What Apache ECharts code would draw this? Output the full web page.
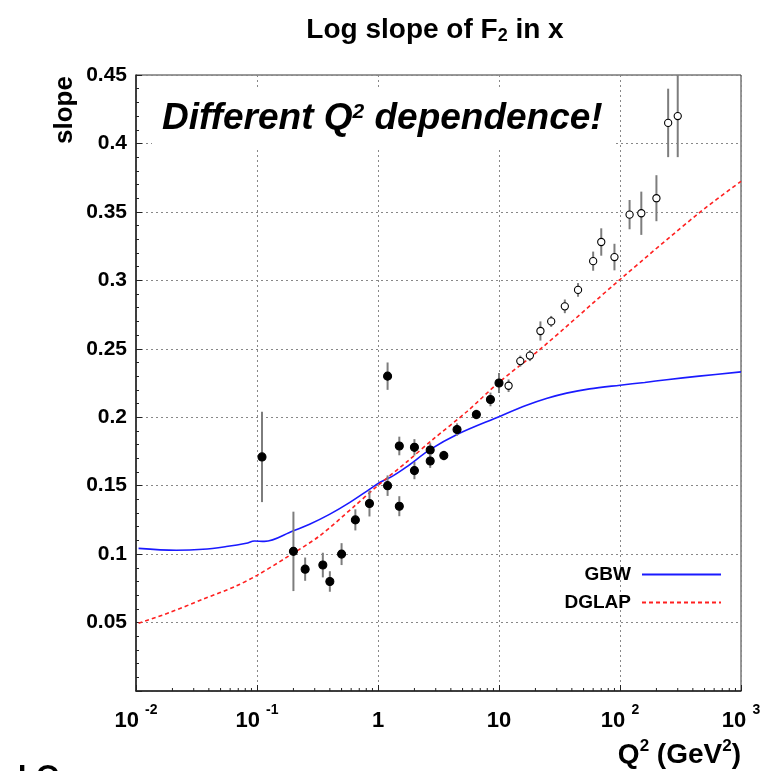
<!DOCTYPE html>
<html>
<head>
<meta charset="utf-8">
<title>Log slope of F2 in x</title>
<script src="https://cdn.jsdelivr.net/npm/echarts@6/dist/echarts.min.js"></script>
<style>
    html, body { margin: 0; padding: 0; background: #fff; }
    #chart { width: 779px; height: 771px; }
</style>
</head>
<body>
<div id="chart"></div>
<script>
    // H1 points, filled markers
    const lowQ2 = [0.11, 0.2, 0.25, 0.35, 0.4, 0.5, 0.65, 0.85, 1.2, 1.2, 1.5, 1.5, 2.0, 2.0, 2.7, 2.7, 3.5, 4.5, 6.5, 8.5, 10]
    const lowSlope = [0.171, 0.102, 0.089, 0.092, 0.080, 0.100, 0.125, 0.137, 0.150, 0.230, 0.179, 0.135, 0.178, 0.161, 0.176, 0.168, 0.172, 0.191, 0.202, 0.213, 0.225]
    const lowErr = [0.033, 0.029, 0.0085, 0.009, 0.0075, 0.008, 0.0077, 0.0095, 0.0075, 0.01, 0.0068, 0.0073, 0.006, 0.0063, 0.005, 0.005, 0.0035, 0.0045, 0.0035, 0.005, 0.0073]

    // open markers (higher Q2)
    const highQ2 = [12, 15, 18, 22, 27, 35, 45, 60, 70, 90, 120, 150, 200, 250, 300]
    const highSlope = [0.223, 0.241, 0.245, 0.263, 0.270, 0.281, 0.293, 0.314, 0.328, 0.317, 0.348, 0.349, 0.360, 0.415, 0.420]
    const highErr = [0.0046, 0.004, 0.004, 0.007, 0.004, 0.005, 0.005, 0.007, 0.010, 0.0097, 0.0107, 0.0158, 0.0168, 0.025, 0.030]

    // model curves
    const gbwQ2 = [0.0105, 0.0215, 0.0357, 0.0557, 0.0815, 0.0953, 0.115, 0.198, 0.272, 0.397, 0.581, 0.849, 1.04, 1.32, 1.71, 2.69, 4.5, 10, 16.9, 25, 36.2, 56, 100, 160, 243, 450, 1000]
    const gbwSlope = [0.1042, 0.1028, 0.1035, 0.1055, 0.1079, 0.1096, 0.1093, 0.1169, 0.1218, 0.129, 0.1376, 0.1473, 0.1525, 0.157, 0.1635, 0.1763, 0.1874, 0.2004, 0.2087, 0.2138, 0.2176, 0.2207, 0.2234, 0.2254, 0.2274, 0.2300, 0.2331]
    const dglapQ2 = [0.0105, 0.0189, 0.0357, 0.0673, 0.1, 0.174, 0.328, 0.619, 1.0, 1.71, 2.86, 5.41, 10, 21.8, 100, 457, 1000]
    const dglapSlope = [0.0495, 0.0573, 0.067, 0.0767, 0.0845, 0.0974, 0.1132, 0.134, 0.1502, 0.167, 0.184, 0.204, 0.2255, 0.2495, 0.3006, 0.3497, 0.3723]

    // small log ticks along the bottom axis
    const minorTickQ2 = [0.02, 0.03, 0.04, 0.05, 0.06, 0.07, 0.08, 0.09,
        0.2, 0.3, 0.4, 0.5, 0.6, 0.7, 0.8, 0.9,
        2, 3, 4, 5, 6, 7, 8, 9,
        20, 30, 40, 50, 60, 70, 80, 90,
        200, 300, 400, 500, 600, 700, 800, 900]

    const font = '"Liberation Sans", Arial, Helvetica, sans-serif'

    function zip (xs, ys) {
        return xs.map((x, i) => [x, ys[i]])
    }

    function decadeLabel (v) {
        const p = Math.round(Math.log10(v))
        if (p === 0) return '{b|1}'
        if (p === 1) return '{b|10}'
        return '{b|10 }{s|' + p + '}'
    }

    function pointSeries (name, q2, slope, err, filled) {
        return {
            name,
            type: 'custom',
            z: 5,
            data: q2.map((q, i) => [q, slope[i], slope[i] - err[i], slope[i] + err[i]]),
            encode: { x: 0, y: [1, 2, 3] },
            renderItem (params, api) {
                const c = api.coord([api.value(0), api.value(1)])
                const lo = api.coord([api.value(0), api.value(2)])
                const hi = api.coord([api.value(0), api.value(3)])
                return {
                    type: 'group',
                    children: [
                        {
                            type: 'line',
                            shape: { x1: c[0], y1: lo[1], x2: c[0], y2: hi[1] },
                            style: { stroke: '#7d7d7d', lineWidth: 2 }
                        },
                        {
                            type: 'circle',
                            shape: { cx: c[0], cy: c[1], r: filled ? 4 : 3.6 },
                            style: { fill: filled ? '#000' : '#fff', stroke: '#000', lineWidth: 1.1 }
                        }
                    ]
                }
            }
        }
    }

    const chart = echarts.init(document.getElementById('chart'))

    const option = {
        animation: false,
        backgroundColor: '#fff',
        textStyle: { fontFamily: font },
        grid: {
            left: 136,
            top: 75,
            width: 605,
            height: 616,
            show: true,
            borderColor: '#333',
            borderWidth: 1
        },
        legend: {
            data: ['GBW', 'DGLAP'],
            orient: 'vertical',
            right: 57,
            top: 565,
            padding: 0,
            align: 'right',
            itemWidth: 79,
            itemHeight: 10,
            itemGap: 9,
            itemStyle: { opacity: 0 },
            textStyle: { fontFamily: font, fontWeight: 'bold', fontSize: 19, color: '#000', padding: [0, 6, 0, 0] }
        },
        xAxis: {
            type: 'log',
            logBase: 10,
            min: 0.01,
            max: 1000,
            axisLine: { lineStyle: { color: '#222', width: 1.5 } },
            axisTick: { inside: true, length: 6, lineStyle: { color: '#222' } },
            splitLine: { show: true, lineStyle: { color: '#888', type: [2, 3], width: 1 } },
            axisLabel: {
                margin: 12,
                formatter: decadeLabel,
                rich: {
                    b: { fontFamily: font, fontWeight: 'bold', fontSize: 22, lineHeight: 36, color: '#000' },
                    s: { fontFamily: font, fontWeight: 'bold', fontSize: 14, lineHeight: 14, padding: [0, 0, 22, 0], color: '#000' }
                }
            }
        },
        yAxis: {
            type: 'value',
            min: 0,
            max: 0.45,
            interval: 0.05,
            axisLine: { show: true, lineStyle: { color: '#222', width: 1.5 } },
            axisTick: { show: true, inside: true, length: 6, lineStyle: { color: '#222' } },
            minorTick: { show: true, splitNumber: 5, length: 3, lineStyle: { color: '#222' } },
            splitLine: { show: true, lineStyle: { color: '#888', type: [2, 3], width: 1 } },
            axisLabel: {
                margin: 9,
                fontFamily: font,
                fontWeight: 'bold',
                fontSize: 21,
                color: '#000',
                formatter: v => v === 0 ? '' : String(+v.toFixed(2))
            }
        },
        graphic: [
            {
                type: 'text',
                x: 435,
                y: 30,
                style: {
                    text: '{a|Log slope of F}{b|2}{a| in x}',
                    align: 'center',
                    verticalAlign: 'middle',
                    rich: {
                        a: { fontFamily: font, fontWeight: 'bold', fontSize: 28, lineHeight: 30, fill: '#000' },
                        b: { fontFamily: font, fontWeight: 'bold', fontSize: 18, lineHeight: 18, padding: [13, 0, 0, 0], fill: '#000' }
                    }
                }
            },
            {
                type: 'text',
                x: 65,
                y: 110,
                rotation: Math.PI / 2,
                style: {
                    text: 'slope',
                    align: 'center',
                    verticalAlign: 'middle',
                    fontFamily: font,
                    fontWeight: 'bold',
                    fontSize: 26,
                    fill: '#000'
                }
            },
            {
                type: 'rect',
                z: 10,
                shape: { x: 152, y: 87, width: 461, height: 61 },
                style: { fill: '#fff' }
            },
            {
                type: 'text',
                z: 11,
                x: 162,
                y: 119,
                style: {
                    text: '{a|Different Q}{s|2}{a| dependence!}',
                    align: 'left',
                    verticalAlign: 'middle',
                    rich: {
                        a: { fontFamily: font, fontWeight: 'bold', fontStyle: 'italic', fontSize: 37, lineHeight: 40, fill: '#000' },
                        s: { fontFamily: font, fontWeight: 'bold', fontStyle: 'italic', fontSize: 21, lineHeight: 21, padding: [0, 0, 14, 0], fill: '#000' }
                    }
                }
            },
            {
                type: 'text',
                x: 741,
                y: 755,
                style: {
                    text: '{a|Q}{s|2}{a| (GeV}{s|2}{a|)}',
                    align: 'right',
                    verticalAlign: 'middle',
                    rich: {
                        a: { fontFamily: font, fontWeight: 'bold', fontSize: 28, lineHeight: 32, fill: '#000' },
                        s: { fontFamily: font, fontWeight: 'bold', fontSize: 17, lineHeight: 17, padding: [0, 0, 18, 0], fill: '#000' }
                    }
                }
            },
            {
                type: 'text',
                x: 18,
                y: 762,
                style: {
                    text: 'LO',
                    fontFamily: font,
                    fontWeight: 'bold',
                    fontSize: 30,
                    fill: '#000'
                }
            }
        ],
        series: [
            {
                name: 'GBW',
                type: 'line',
                data: zip(gbwQ2, gbwSlope),
                symbol: 'none',
                smooth: 0.35,
                color: '#1a1aff',
                lineStyle: { color: '#1a1aff', width: 1.6 },
                z: 3
            },
            {
                name: 'DGLAP',
                type: 'line',
                data: zip(dglapQ2, dglapSlope),
                symbol: 'none',
                smooth: 0.3,
                color: '#ff2020',
                lineStyle: { color: '#ff2020', width: 1.6, type: [4, 3] },
                z: 3
            },
            pointSeries('H1 low Q2', lowQ2, lowSlope, lowErr, true),
            pointSeries('H1 high Q2', highQ2, highSlope, highErr, false),
            {
                name: 'minor ticks',
                type: 'custom',
                silent: true,
                data: minorTickQ2.map(q => [q, 0]),
                renderItem (params, api) {
                    const p = api.coord([api.value(0), api.value(1)])
                    return {
                        type: 'line',
                        shape: { x1: p[0], y1: p[1], x2: p[0], y2: p[1] - 3 },
                        style: { stroke: '#222', lineWidth: 1 }
                    }
                }
            }
        ]
    }

    chart.setOption(option)
</script>
</body>
</html>
